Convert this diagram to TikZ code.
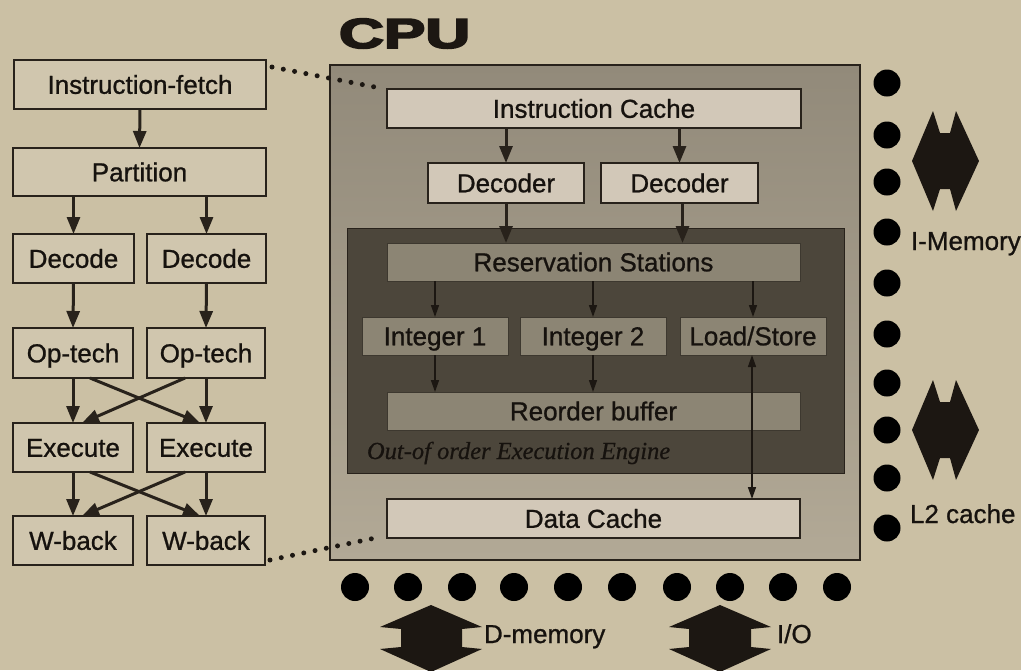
\documentclass[tikz,border=0pt]{standalone}
\usepackage{fontspec}
\setmainfont{Liberation Sans}
\newfontfamily\labelfont[FakeBold=0.9]{Liberation Sans}
\newfontfamily\serifit[FakeBold=0.6]{Liberation Serif Italic}
\newfontfamily\heavyfont[FakeBold=4]{Liberation Sans Bold}
\usetikzlibrary{arrows.meta,calc}
\definecolor{paper}{RGB}{203,192,164}
\definecolor{boxfill}{RGB}{208,198,174}
\definecolor{lightfill}{RGB}{210,200,184}
\definecolor{cputop}{RGB}{146,138,122}
\definecolor{cpubot}{RGB}{178,169,150}
\definecolor{enginefill}{RGB}{76,70,59}
\definecolor{midfill}{RGB}{140,133,116}
\definecolor{ink}{RGB}{40,34,27}
\definecolor{txt}{RGB}{22,18,14}
\definecolor{pin}{RGB}{28,23,18}
\newcommand\boxfont{\labelfont\fontsize{26}{30}\selectfont}
\begin{document}
\begin{tikzpicture}[x=1pt,y=-1pt,
  every node/.style={inner sep=0pt,outer sep=0pt},
  lbox/.style={draw=ink,line width=1.5pt,fill=boxfill,font=\boxfont,text=txt,text height=18.6pt,text depth=0pt},
  cbox/.style={lbox,fill=lightfill},
  gbox/.style={fill=midfill,draw=enginefill!80!black,line width=0.8pt,font=\boxfont,text=txt,text height=18.6pt,text depth=0pt},
  bigarrow/.style={draw=ink,line width=3pt,-{Triangle[width=13pt,length=17pt]}},
  thinarrow/.style={draw=pin,line width=1.5pt,-{Triangle[width=8pt,length=12pt]}},
  dotline/.style={draw=pin,line width=5pt,line cap=round,dash pattern=on 0pt off 11.5pt},
  lbl/.style={font=\boxfont,text=txt,anchor=base west},
  blockarrow/.style={fill=pin}]
\useasboundingbox (0,0) rectangle (1021,670);
\fill[paper] (0,0) rectangle (1021,670);

% ---- left pipeline ----
\node[lbox,minimum width=252pt,minimum height=49pt] (ifetch) at (140,84.5) {Instruction-fetch};
\node[lbox,minimum width=253pt,minimum height=48pt] (part) at (139.5,172) {Partition};
\node[lbox,minimum width=121pt,minimum height=49pt] (decL) at (73.5,258.5) {Decode};
\node[lbox,minimum width=119pt,minimum height=49pt] (decR) at (206.5,258.5) {Decode};
\node[lbox,minimum width=120pt,minimum height=50pt] (opL) at (73,353) {Op-tech};
\node[lbox,minimum width=118pt,minimum height=50pt] (opR) at (206,353) {Op-tech};
\node[lbox,minimum width=120pt,minimum height=49pt] (exL) at (73,447.5) {Execute};
\node[lbox,minimum width=118pt,minimum height=49pt] (exR) at (206,447.5) {Execute};
\node[lbox,minimum width=120pt,minimum height=49pt] (wbL) at (73,540.5) {W-back};
\node[lbox,minimum width=118pt,minimum height=49pt] (wbR) at (206,540.5) {W-back};

\draw[bigarrow] (ifetch.south) -- (part.north);
\draw[bigarrow] (part.south -| decL.north) -- (decL.north);
\draw[bigarrow] (part.south -| decR.north) -- (decR.north);
\draw[bigarrow] (decL.south) -- (opL.north);
\draw[bigarrow] (decR.south) -- (opR.north);
\draw[bigarrow] (opL.south) -- (exL.north);
\draw[bigarrow] (opR.south) -- (exR.north);
\draw[bigarrow] ([xshift=17pt]opL.south) -- ([xshift=-6pt]exR.north);
\draw[bigarrow] ([xshift=-21pt]opR.south) -- ([xshift=9pt]exL.north);
\draw[bigarrow] (exL.south) -- (wbL.north);
\draw[bigarrow] (exR.south) -- (wbR.north);
\draw[bigarrow] ([xshift=17pt]exL.south) -- ([xshift=-6pt]wbR.north);
\draw[bigarrow] ([xshift=-21pt]exR.south) -- ([xshift=9pt]wbL.north);

% ---- CPU ----
\node[anchor=base west,text=pin] (cputitle) at (339,48) {\heavyfont\fontsize{42}{42}\selectfont\scalebox{1.48}[1]{CPU}};
\node[draw=ink,line width=1.5pt,top color=cputop,bottom color=cpubot,minimum width=530pt,minimum height=495pt] (cpu) at (595,312.5) {};
\node[cbox,minimum width=414pt,minimum height=39pt] (icache) at (594,108.5) {Instruction Cache};
\node[cbox,minimum width=156pt,minimum height=40pt] (dcd1) at (506,183) {Decoder};
\node[cbox,minimum width=157pt,minimum height=40pt] (dcd2) at (679.5,183) {Decoder};
\node[fill=enginefill,draw=ink,line width=0.8pt,minimum width=497pt,minimum height=245pt] (engine) at (595.5,350.5) {};
\node[gbox,minimum width=413pt,minimum height=38pt] (rs) at (593.5,262) {Reservation Stations};
\node[gbox,minimum width=146pt,minimum height=38pt] (int1) at (435,336) {Integer 1};
\node[gbox,minimum width=146pt,minimum height=38pt] (int2) at (593,336) {Integer 2};
\node[gbox,minimum width=146pt,minimum height=38pt] (ls) at (753,336) {Load/Store};
\node[gbox,minimum width=413pt,minimum height=38pt] (rob) at (593.5,411) {Reorder buffer};
\node[anchor=base west,text=txt,font={\serifit\fontsize{24.5}{28}\selectfont}] (engtitle) at (367,459) {Out-of order Execution Engine};
\node[cbox,minimum width=413pt,minimum height=39pt] (dcache) at (593.5,518.5) {Data Cache};

\draw[bigarrow] (icache.south -| dcd1.north) -- (dcd1.north);
\draw[bigarrow] (icache.south -| dcd2.north) -- (dcd2.north);
\draw[bigarrow] (dcd1.south) -- (dcd1.south |- rs.north);
\draw[bigarrow] ([xshift=3pt]dcd2.south) -- ([xshift=3pt]dcd2.south |- rs.north);
\draw[thinarrow] (rs.south -| int1.north) -- (int1.north);
\draw[thinarrow] (rs.south -| int2.north) -- (int2.north);
\draw[thinarrow] (rs.south -| ls.north) -- (ls.north);
\draw[thinarrow] (int1.south) -- (int1.south |- rob.north);
\draw[thinarrow] (int2.south) -- (int2.south |- rob.north);
\draw[thinarrow,{Triangle[width=8pt,length=12pt]}-{Triangle[width=8pt,length=12pt]}] ([xshift=-1pt]ls.south) -- ([xshift=-1pt]ls.south |- dcache.north);

% ---- dotted zoom lines ----
\draw[dotline] ([shift={(6,7)}]ifetch.north east) -- ([shift={(-7,-1)}]icache.north west);
\draw[dotline] ([shift={(5,-5)}]wbR.south east) -- ([shift={(-7,-1)}]dcache.south west);

% ---- pins ----
\foreach \py in {83,135,182,232,283,334,383,430,478,528}
  \fill[pin] (887,\py) circle[radius=13.5pt];
\foreach \px in {355,408,462,514,568,622,677,730,783,837}
  \fill[pin] (\px,587) circle[radius=14pt];

% ---- block arrows ----
\fill[blockarrow] (912,161) -- (933,111) -- (940,133) -- (950,133) -- (956,111) -- (979,161)
  -- (956,211) -- (950,189) -- (940,189) -- (933,211) -- cycle;
\fill[blockarrow] (912,430) -- (933,380) -- (940,402) -- (950,402) -- (956,380) -- (979,430)
  -- (956,480) -- (950,458) -- (940,458) -- (933,480) -- cycle;
\fill[blockarrow] (431,605) -- (482,627) -- (462,629) -- (462,647) -- (482,649) -- (431,672)
  -- (380,649) -- (401,647) -- (401,629) -- (380,627) -- cycle;
\fill[blockarrow] (720,605) -- (771,627) -- (751,629) -- (751,647) -- (771,649) -- (720,672)
  -- (669,649) -- (689,647) -- (689,629) -- (669,627) -- cycle;

\node[lbl] (imem) at (911,250) {I-Memory};
\node[lbl] (l2) at (910,523) {L2 cache};
\node[lbl] (dmem) at (484,643) {D-memory};
\node[lbl] (io) at (777,643) {I/O};
\end{tikzpicture}
\end{document}
